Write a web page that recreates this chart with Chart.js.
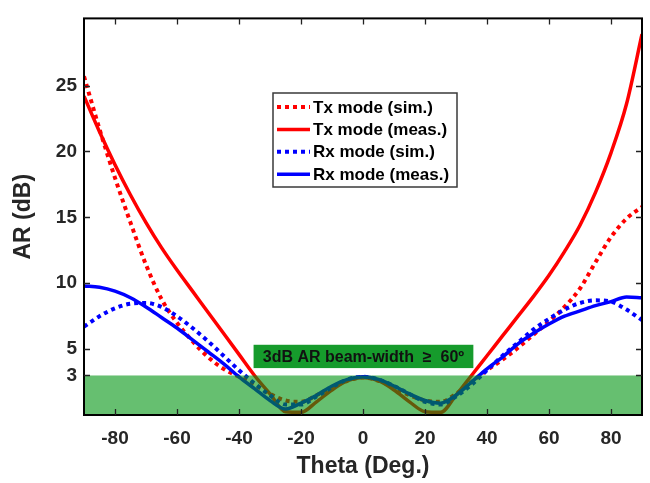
<!DOCTYPE html>
<html>
<head>
<meta charset="utf-8">
<script src="https://cdn.jsdelivr.net/npm/chart.js@4.4.1/dist/chart.umd.min.js"></script>
<style>
  html, body { margin: 0; padding: 0; background: #fff; }
  #wrap { width: 650px; height: 483px; }
</style>
</head>
<body>
<div id="wrap"><canvas id="arChart" width="650" height="483"></canvas></div>
<script>
// Theta (deg.) sample points
const theta = [-90, -85, -80, -75, -70, -65, -60, -55, -50, -45, -40, -35, -30, -25, -20, -15, -10, -5, 0,
               5, 10, 15, 20, 25, 30, 35, 40, 45, 50, 55, 60, 65, 70, 75, 80, 85, 90];

// AR (dB)
const txSim  = [25.7, 21.7, 18.0, 14.6, 11.4, 8.8, 7.0, 5.6, 4.4, 3.5, 2.9, 2.3, 1.6, 1.1, 1.0, 1.5, 2.1, 2.6, 2.85,
                2.6, 2.1, 1.5, 1.1, 1.0, 1.6, 2.5, 3.4, 4.2, 5.1, 6.1, 7.1, 8.2, 9.6, 11.6, 13.5, 14.9, 15.8];
const txMeas = [24.2, 21.5, 19.0, 16.7, 14.6, 12.7, 11.0, 9.4, 7.8, 6.2, 4.6, 3.0, 1.6, 0.25, 0.2, 1.0, 1.9, 2.6, 2.85,
                2.6, 1.9, 1.0, 0.25, 0.2, 1.5, 3.0, 4.5, 6.0, 7.5, 9.0, 10.6, 12.4, 14.4, 16.9, 19.9, 23.6, 28.9];
const rxSim  = [6.7, 7.5, 8.1, 8.45, 8.5, 8.2, 7.5, 6.6, 5.6, 4.5, 3.4, 2.4, 1.5, 0.8, 0.8, 1.4, 2.1, 2.7, 2.9,
                2.7, 2.2, 1.6, 1.0, 0.8, 1.4, 2.3, 3.4, 4.5, 5.5, 6.5, 7.3, 8.0, 8.5, 8.7, 8.6, 8.0, 7.2];
const rxMeas = [9.8, 9.7, 9.4, 8.9, 8.2, 7.4, 6.6, 5.7, 4.8, 3.9, 2.9, 2.0, 1.1, 0.45, 0.9, 1.5, 2.2, 2.7, 2.9,
                2.7, 2.2, 1.6, 1.1, 0.9, 1.5, 2.5, 3.5, 4.4, 5.4, 6.2, 6.9, 7.5, 7.9, 8.3, 8.6, 8.95, 8.9];

const xTicks = [-80, -60, -40, -20, 0, 20, 40, 60, 80];
const yTicks = [3, 5, 10, 15, 20, 25];

// 3 dB band and its label
const bandTop = 3;
const bandLabel = '3dB AR beam-width  \u2265  60\u00BA';
const labelRange = { x0: -35.3, x1: 35.6, y0: 3.56, y1: 5.33 };

const toPoints = (ys) => theta.map((t, i) => ({ x: t, y: ys[i] }));

const textColor = '#262626';
const fontFamily = 'Arial, "Liberation Sans", sans-serif';

// Draws the box, inward ticks, the green band and the legend
const decorPlugin = {
    id: 'decor',
    afterDatasetsDraw(chart) {
        const { ctx, chartArea: a, scales } = chart;
        const xs = scales.x, ys = scales.y;

        // semi-transparent green band over the lines
        ctx.save();
        ctx.fillStyle = 'rgba(0, 148, 17, 0.6)';
        const yb = ys.getPixelForValue(bandTop);
        ctx.fillRect(a.left, yb, a.right - a.left, a.bottom - yb);

        // label box
        const lx0 = xs.getPixelForValue(labelRange.x0), lx1 = xs.getPixelForValue(labelRange.x1);
        const ly0 = ys.getPixelForValue(labelRange.y1), ly1 = ys.getPixelForValue(labelRange.y0);
        ctx.fillStyle = '#169b2c';
        ctx.fillRect(lx0, ly0, lx1 - lx0, ly1 - ly0);
        ctx.fillStyle = '#111';
        ctx.font = 'bold 16px ' + fontFamily;
        ctx.textAlign = 'center';
        ctx.textBaseline = 'middle';
        ctx.fillText(bandLabel, (lx0 + lx1) / 2, (ly0 + ly1) / 2 + 1);

        // axes box
        ctx.strokeStyle = '#000';
        ctx.lineWidth = 2;
        ctx.strokeRect(a.left, a.top, a.right - a.left, a.bottom - a.top);

        // inward ticks on all four sides
        ctx.lineWidth = 1.3;
        ctx.strokeStyle = '#222';
        const tl = 6;
        ctx.beginPath();
        xTicks.forEach(v => {
            const px = Math.round(xs.getPixelForValue(v)) + 0.5;
            ctx.moveTo(px, a.bottom); ctx.lineTo(px, a.bottom - tl);
            ctx.moveTo(px, a.top); ctx.lineTo(px, a.top + tl);
        });
        yTicks.forEach(v => {
            const py = Math.round(ys.getPixelForValue(v)) + 0.5;
            ctx.moveTo(a.left, py); ctx.lineTo(a.left + tl, py);
            ctx.moveTo(a.right, py); ctx.lineTo(a.right - tl, py);
        });
        ctx.stroke();

        // legend
        const lg = { left: 273, top: 93, width: 184, height: 94, rowStart: 107, rowGap: 22.4 };
        ctx.fillStyle = '#fff';
        ctx.fillRect(lg.left, lg.top, lg.width, lg.height);
        ctx.strokeStyle = '#3a3a3a';
        ctx.lineWidth = 1.5;
        ctx.strokeRect(lg.left, lg.top, lg.width, lg.height);
        ctx.font = 'bold 17px ' + fontFamily;
        ctx.textAlign = 'left';
        ctx.textBaseline = 'middle';
        chart.data.datasets.forEach((ds, i) => {
            const y = lg.rowStart + i * lg.rowGap;
            ctx.beginPath();
            ctx.strokeStyle = ds.borderColor;
            ctx.lineWidth = ds.borderWidth;
            ctx.setLineDash(ds.borderDash || []);
            ctx.moveTo(lg.left + 4, y);
            ctx.lineTo(lg.left + 37, y);
            ctx.stroke();
            ctx.setLineDash([]);
            ctx.fillStyle = '#000';
            ctx.fillText(ds.label, lg.left + 40, y + 1);
        });
        ctx.restore();
    }
};

const lineDs = (label, ys, color, dashed, order) => ({
    label: label,
    data: toPoints(ys),
    borderColor: color,
    borderWidth: dashed ? 4 : 3.5,
    borderDash: dashed ? [4, 4] : [],
    borderCapStyle: 'butt',
    pointRadius: 0,
    cubicInterpolationMode: 'monotone',
    fill: false,
    order: order
});

new Chart(document.getElementById('arChart').getContext('2d'), {
    type: 'line',
    data: {
        datasets: [
            lineDs('Tx mode (sim.)', txSim, '#ff0000', true, 3),
            lineDs('Tx mode (meas.)', txMeas, '#ff0000', false, 2),
            lineDs('Rx mode (sim.)', rxSim, '#0000ff', true, 1),
            lineDs('Rx mode (meas.)', rxMeas, '#0000ff', false, 0)
        ]
    },
    options: {
        responsive: false,
        animation: false,
        layout: { padding: { top: 8, right: 8, left: 0, bottom: 0 } },
        plugins: {
            legend: { display: false },
            tooltip: { enabled: false }
        },
        scales: {
            x: {
                type: 'linear',
                min: -90,
                max: 90,
                afterBuildTicks: (s) => { s.ticks = xTicks.map(v => ({ value: v })); },
                afterFit: (s) => { s.height = 68; },
                grid: { display: false, drawTicks: false },
                border: { display: false },
                ticks: {
                    color: textColor,
                    padding: 12,
                    maxRotation: 0,
                    font: { family: fontFamily, size: 19, weight: 'bold' }
                },
                title: {
                    display: true,
                    text: 'Theta (Deg.)',
                    color: textColor,
                    padding: { top: 0, bottom: 3 },
                    font: { family: fontFamily, size: 23, weight: 'bold' }
                }
            },
            y: {
                min: 0,
                max: 30.1,
                afterBuildTicks: (s) => { s.ticks = yTicks.map(v => ({ value: v })); },
                afterFit: (s) => { s.width = 84; },
                grid: { display: false, drawTicks: false },
                border: { display: false },
                ticks: {
                    color: textColor,
                    padding: 7,
                    font: { family: fontFamily, size: 19, weight: 'bold' }
                },
                title: {
                    display: true,
                    text: 'AR (dB)',
                    color: textColor,
                    padding: { top: 10, bottom: 0 },
                    font: { family: fontFamily, size: 23, weight: 'bold' }
                }
            }
        }
    },
    plugins: [decorPlugin]
});
</script>
</body>
</html>
